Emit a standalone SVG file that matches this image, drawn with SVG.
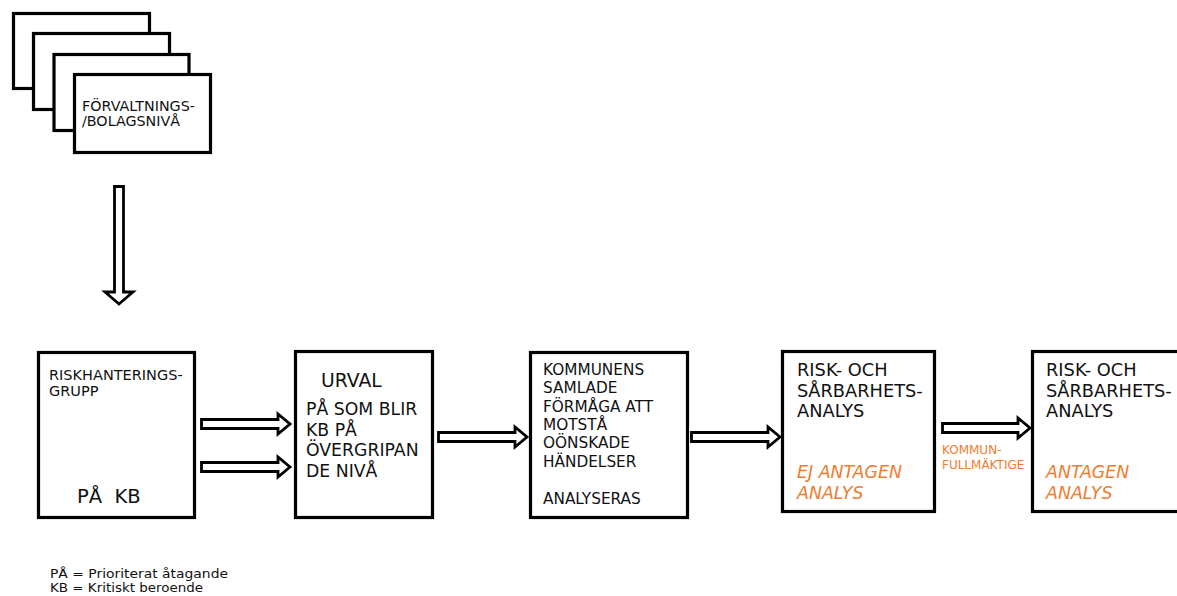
<svg xmlns="http://www.w3.org/2000/svg" width="1177" height="596" viewBox="0 0 1177 596">
<style>
.box{fill:#fff;stroke:#000;stroke-width:3.2}
.arr{fill:#fff;stroke:#000;stroke-width:2.8;stroke-linejoin:miter}
text{font-family:"DejaVu Sans","Verdana",sans-serif;fill:#111}
.or{fill:#ED7D31}
.it{font-style:italic}
</style>
<rect width="1177" height="596" fill="#fff"/>
<g id="stack">
<rect class="box" x="13.5" y="13.5" width="136" height="75"/>
<rect class="box" x="33.5" y="33.5" width="136" height="76"/>
<rect class="box" x="54" y="54.5" width="135" height="76"/>
<rect class="box" x="74.5" y="74.5" width="136" height="78"/>
<text font-size="14.3"><tspan x="82" y="111">FÖRVALTNINGS-</tspan><tspan x="82" y="126">/BOLAGSNIVÅ</tspan></text>
</g>
<g id="connectors">
<path class="arr" d="M114.5,186.5 H123.5 V292 H133 L119,304 L105,292 H114.5 Z"/>
<path class="arr" d="M201.5,419.5 V428.5 H278 V434 L290,424 L278,414 V419.5 Z"/>
<path class="arr" d="M201.5,462.5 V471.5 H278 V477 L290,467 L278,457 V462.5 Z"/>
<path class="arr" d="M438.5,432.5 V441.5 H515 V447 L527,437 L515,427 V432.5 Z"/>
<path class="arr" d="M691.5,432.5 V441.5 H768 V447 L780,437 L768,427 V432.5 Z"/>
<path class="arr" d="M942.5,423.5 V432.5 H1018 V438 L1030,428 L1018,418 V423.5 Z"/>
<text class="or" font-size="12"><tspan x="942" y="454">KOMMUN-</tspan><tspan x="942" y="469">FULLMÄKTIGE</tspan></text>
</g>
<g id="riskgrupp">
<rect class="box" x="38.5" y="352.5" width="156" height="165"/>
<text font-size="14.5"><tspan x="49" y="380">RISKHANTERINGS-</tspan><tspan x="49" y="396">GRUPP</tspan></text>
<text font-size="19.5" x="77" y="503" xml:space="preserve">PÅ  KB</text>
</g>
<g id="urval">
<rect class="box" x="295.5" y="351.5" width="137" height="166"/>
<text font-size="18.8" x="321" y="387">URVAL</text>
<text font-size="17.3"><tspan x="306" y="415">PÅ SOM BLIR</tspan><tspan x="306" y="435.5">KB PÅ</tspan><tspan x="306" y="456">ÖVERGRIPAN</tspan><tspan x="306" y="476.5">DE NIVÅ</tspan></text>
</g>
<g id="kommunens">
<rect class="box" x="530.5" y="352.5" width="157" height="165"/>
<text font-size="15.3"><tspan x="543" y="375">KOMMUNENS</tspan><tspan x="543" y="393.3">SAMLADE</tspan><tspan x="543" y="411.6">FÖRMÅGA ATT</tspan><tspan x="543" y="429.9">MOTSTÅ</tspan><tspan x="543" y="448.2">OÖNSKADE</tspan><tspan x="543" y="466.5">HÄNDELSER</tspan><tspan x="543" y="504">ANALYSERAS</tspan></text>
</g>
<g id="rsa-ej">
<rect class="box" x="782.5" y="351.5" width="152" height="160"/>
<text font-size="17.8"><tspan x="797" y="376">RISK- OCH</tspan><tspan x="797" y="397">SÅRBARHETS-</tspan><tspan x="797" y="417">ANALYS</tspan></text>
<text class="or it" font-size="17.4"><tspan x="797" y="478">EJ ANTAGEN</tspan><tspan x="797" y="499">ANALYS</tspan></text>
</g>
<g id="rsa-antagen">
<rect class="box" x="1032.5" y="351.5" width="160" height="160"/>
<text font-size="17.8"><tspan x="1046" y="376">RISK- OCH</tspan><tspan x="1046" y="397">SÅRBARHETS-</tspan><tspan x="1046" y="417">ANALYS</tspan></text>
<text class="or it" font-size="17.4"><tspan x="1046" y="478">ANTAGEN</tspan><tspan x="1046" y="499">ANALYS</tspan></text>
</g>
<g id="legend">
<text font-size="12" x="50" y="578" textLength="178" lengthAdjust="spacingAndGlyphs">PÅ = Prioriterat åtagande</text>
<text font-size="12" x="50" y="592" textLength="153" lengthAdjust="spacingAndGlyphs">KB = Kritiskt beroende</text>
</g>
</svg>
